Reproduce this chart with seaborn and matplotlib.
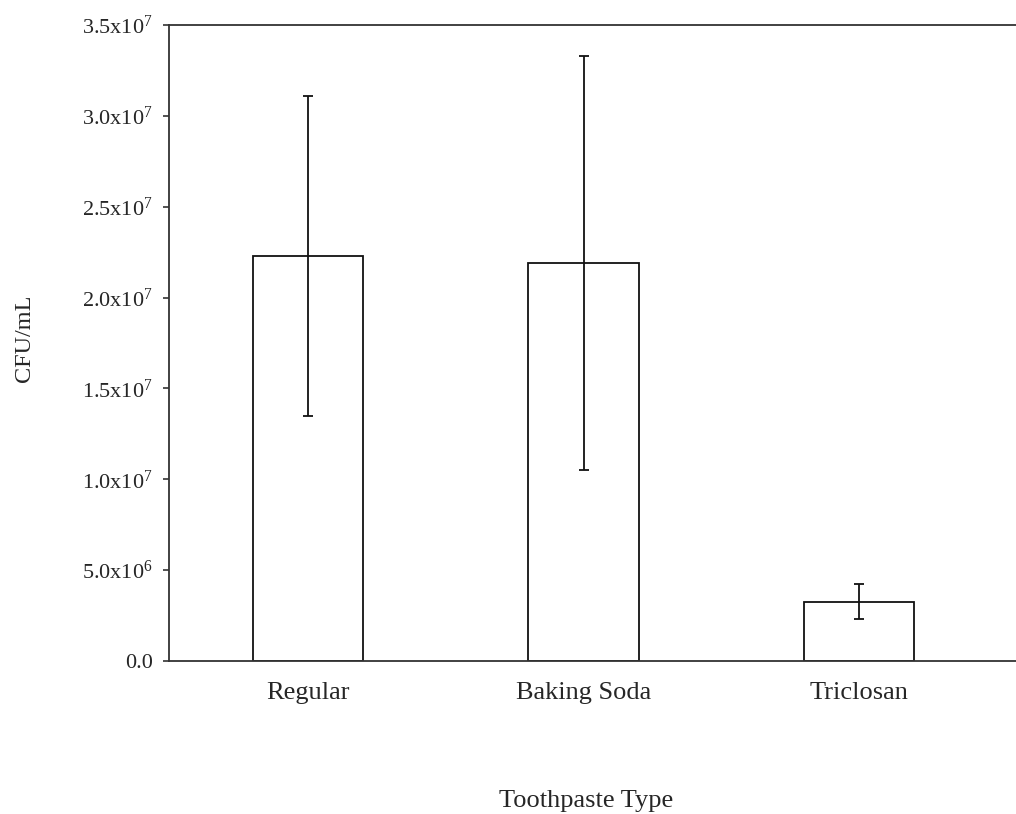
import matplotlib
matplotlib.use("Agg")
import matplotlib.pyplot as plt
import pandas as pd
import seaborn as sns

toothpaste = ["Regular", "Baking Soda", "Triclosan"]
cfu_mean = [2.23e7, 2.19e7, 3.25e6]
cfu_err = [8.8e6, 1.14e7, 9.6e5]

yticks = [0, 5e6, 1e7, 1.5e7, 2e7, 2.5e7, 3e7, 3.5e7]
ytick_labels = ["0.0", r"5.0x10$^{6}$", r"1.0x10$^{7}$", r"1.5x10$^{7}$",
                r"2.0x10$^{7}$", r"2.5x10$^{7}$", r"3.0x10$^{7}$", r"3.5x10$^{7}$"]

sns.set_style("ticks")
plt.rcParams["font.family"] = ["Liberation Serif", "DejaVu Serif"]
plt.rcParams["mathtext.fontset"] = "custom"
plt.rcParams["mathtext.rm"] = "Liberation Serif"
plt.rcParams["mathtext.default"] = "regular"

df = pd.DataFrame({"type": toothpaste, "cfu": cfu_mean})

fig = plt.figure(figsize=(10.16, 8.14), dpi=100)
ax = fig.add_axes([0.1663, 0.188, 0.8337, 0.7813])

sns.barplot(data=df, x="type", y="cfu", color="white", edgecolor="#111111",
            linewidth=1.3, width=0.4, saturation=1, ax=ax)
ax.errorbar(range(len(toothpaste)), cfu_mean, yerr=cfu_err, fmt="none",
            ecolor="#111111", elinewidth=1.3, capsize=3.7, capthick=1.3)

ax.set_xlim(-0.505, 2.57)
ax.set_ylim(0, 3.5e7)
ax.set_yticks(yticks)
ax.set_yticklabels(ytick_labels, fontsize=16)
ax.tick_params(axis="x", length=0, labelsize=19, pad=15)
ax.tick_params(axis="y", length=4.5, width=1.2, color="#333333", pad=7)

for side in ["left", "bottom", "top"]:
    ax.spines[side].set_color("#333333")
    ax.spines[side].set_linewidth(1.3)
ax.spines["right"].set_visible(False)

ax.set_xlabel("Toothpaste Type", fontsize=19)
ax.set_ylabel("CFU/mL", fontsize=17.5)
ax.xaxis.set_label_coords(0.493, -0.203)
ax.yaxis.set_label_coords(-0.158, 0.507)

fig.savefig("out.png", dpi=100)
